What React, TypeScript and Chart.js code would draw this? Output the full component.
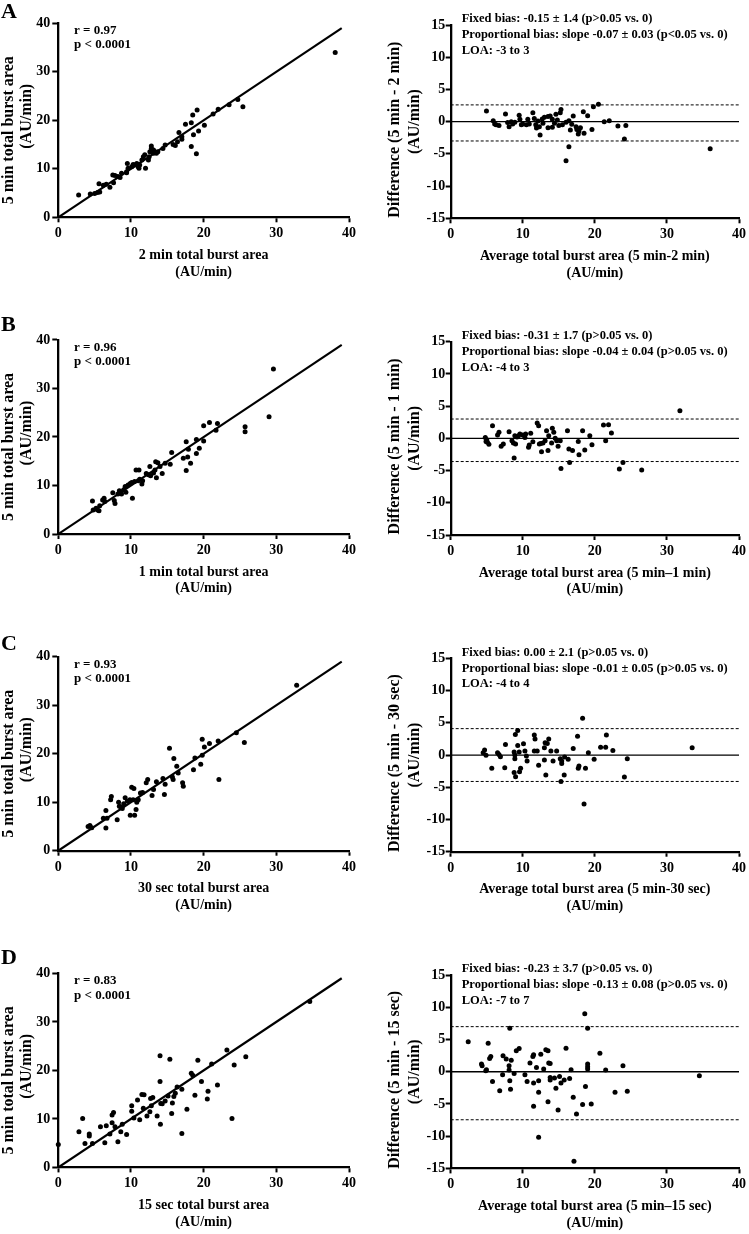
import React, { useEffect, useRef } from "react";
import { Chart, registerables } from "chart.js";

Chart.register(...registerables);

const SERIF = '"Liberation Serif", "Times New Roman", Times, serif';

// ---------- axis ranges / ticks ----------
const corrRange = [0, 40];
const corrStep = 10;
const diffRange = [-15, 15];
const diffStep = 5;

// fitted line in correlation panels
const fitLineX = [0, 39];
const fitLineY = [0, 39];
// zero line in Bland-Altman panels
const zeroLineX = [0, 40];

// ---------- Panel A ----------
const aCorrX = [2.8, 4.4, 5.0, 5.4, 5.7, 5.6, 6.2, 6.6, 7.1, 7.6, 7.5, 7.8, 8.2, 8.5, 8.7, 9.4, 9.4, 9.5, 9.6, 10.1, 10.3, 10.5, 10.8, 11.0, 11.1, 11.2, 11.5, 11.7, 11.9, 12.0, 12.4, 12.5, 12.6, 12.8, 12.8, 12.9, 13.1, 13.1, 13.3, 13.5, 13.7, 14.4, 14.7, 15.8, 16.1, 16.4, 16.6, 17.0, 17.0, 17.5, 18.3, 18.5, 18.3, 18.6, 19.0, 19.1, 19.3, 20.1, 21.3, 22.0, 23.5, 24.7, 25.4, 38.1];
const aCorrY = [4.6, 4.8, 4.9, 5.1, 5.2, 6.9, 6.6, 6.8, 6.2, 7.1, 8.7, 8.6, 8.4, 8.2, 9.1, 9.4, 9.2, 11.1, 10.1, 10.4, 10.9, 10.8, 11.1, 10.4, 10.1, 10.8, 11.8, 12.5, 12.9, 10.1, 11.8, 12.5, 13.5, 14.2, 14.7, 13.9, 13.9, 13.2, 13.5, 13.2, 13.5, 14.2, 14.9, 15.0, 14.8, 15.6, 17.5, 16.1, 16.6, 19.2, 19.5, 21.1, 14.6, 17.0, 13.1, 22.1, 17.8, 19.0, 21.3, 22.3, 23.2, 24.3, 22.8, 34.0];
const aBaX = [4.96, 5.9, 6.1, 6.3, 6.7, 7.6, 7.9, 8.1, 8.4, 8.6, 8.9, 9.5, 9.6, 9.8, 10.0, 10.5, 10.7, 10.9, 11.4, 11.6, 11.8, 11.9, 12.1, 12.3, 12.4, 12.7, 12.8, 13.0, 13.5, 13.5, 13.8, 14.1, 14.1, 14.4, 14.6, 14.8, 15.0, 15.2, 15.3, 15.5, 16.0, 16.0, 16.4, 16.4, 16.6, 16.8, 17.0, 17.4, 17.5, 17.7, 17.8, 18.0, 18.4, 18.5, 19.0, 19.6, 19.8, 20.5, 21.3, 22.0, 23.2, 24.1, 24.3, 36.0];
const aBaY = [1.66, 0.15, -0.36, -0.5, -0.6, 1.2, -0.15, -0.8, 0, -0.36, -0.1, 1.0, 0.36, -0.5, -0.36, -0.5, 0.36, -0.36, 1.4, 0.5, -0.5, -1.0, 0.1, -0.8, -2.07, 0.4, -0.26, 0.67, 0.78, -0.93, 0.88, -0.88, 0.36, -0.26, 1.14, 0.26, -0.6, 1.4, 1.9, -0.5, -0.1, -6.05, 0.15, -3.9, -1.3, -0.4, 0.88, -0.8, -1.2, -1.9, -1.45, -0.93, 1.55, -1.8, 0.93, -1.2, 2.3, 2.7, 0, 0.15, -0.67, -2.7, -0.6, -4.2];
const aLoa = [2.6, -3.0];

// ---------- Panel B ----------
const bCorrX = [4.7, 4.8, 5.2, 5.4, 5.6, 5.7, 6.1, 6.3, 6.4, 7.5, 7.7, 7.8, 8.2, 8.4, 8.6, 8.7, 9.0, 9.2, 9.3, 9.6, 9.9, 10.1, 10.2, 10.5, 10.7, 11.0, 11.1, 11.2, 11.5, 11.6, 12.1, 12.4, 12.6, 12.7, 13.1, 13.3, 13.4, 13.5, 13.7, 14.0, 14.3, 14.7, 15.4, 15.6, 17.2, 17.6, 17.6, 17.8, 17.9, 18.2, 19.0, 19.0, 19.4, 20.0, 20.0, 20.8, 21.7, 21.9, 25.7, 25.7, 29.0, 29.6];
const bCorrY = [6.8, 4.95, 5.3, 4.95, 4.8, 5.8, 7.0, 7.35, 6.7, 8.5, 6.9, 6.3, 8.25, 8.9, 8.7, 8.25, 9.1, 9.8, 8.6, 10.1, 10.4, 10.6, 7.35, 10.8, 13.2, 11.0, 13.2, 11.3, 10.3, 11.0, 12.5, 12.2, 13.9, 12.0, 12.6, 13.2, 14.9, 11.6, 14.7, 13.9, 12.5, 14.6, 14.4, 16.8, 15.6, 19.0, 13.1, 15.9, 17.5, 14.6, 19.5, 16.6, 17.7, 22.3, 19.2, 23.0, 21.4, 22.8, 22.1, 21.1, 24.2, 34.0];
const bBaX = [4.8, 4.9, 5.0, 5.1, 5.3, 5.8, 6.5, 6.7, 7.0, 7.3, 8.1, 8.5, 8.7, 8.8, 8.9, 9.0, 9.2, 9.4, 9.6, 10.0, 10.3, 10.4, 10.8, 10.9, 11.1, 11.4, 12.0, 12.2, 12.3, 12.5, 12.6, 12.8, 13.1, 13.3, 13.5, 13.6, 14.0, 14.1, 14.3, 14.5, 14.7, 14.9, 15.2, 15.3, 16.2, 16.4, 16.5, 16.9, 17.7, 17.8, 18.3, 18.6, 19.3, 19.6, 21.2, 21.5, 21.9, 22.3, 23.4, 23.9, 26.5, 31.8];
const bBaY = [0.15, -0.5, -0.2, -0.6, -0.9, 1.97, 0.52, 0.93, -1.24, -0.88, 1.04, -0.36, -0.73, -3.06, 0.41, -0.88, 0.2, 0.41, 0.67, 0.52, 0.15, 0.67, -1.4, -1.04, 0.78, -0.52, 2.38, 1.97, -0.88, -0.8, -2.07, -0.73, -0.36, 1.19, -1.9, 0.41, -0.73, 1.55, 0.93, 0, -0.36, -1.24, -0.36, -4.66, 1.19, -1.66, -3.73, -1.9, -0.47, -2.54, 1.19, -1.81, 0.41, -0.98, 2.07, -0.36, 2.12, 0.83, -4.77, -3.73, -4.92, 4.3];
const bLoa = [3.0, -3.6];

// ---------- Panel C ----------
const cCorrX = [4.1, 4.35, 4.6, 6.2, 6.55, 6.55, 6.7, 7.2, 7.3, 8.1, 8.3, 8.4, 8.6, 8.8, 9.0, 9.2, 9.5, 9.85, 9.9, 10.1, 10.3, 10.4, 10.5, 10.7, 10.8, 11.0, 11.3, 11.6, 12.1, 12.3, 12.9, 13.1, 13.5, 14.4, 14.6, 14.7, 15.3, 15.7, 15.8, 15.9, 16.3, 16.5, 17.1, 17.2, 18.6, 18.8, 19.6, 19.8, 19.8, 20.1, 20.8, 22.0, 22.1, 24.5, 25.6, 32.8];
const cCorrY = [5.0, 5.2, 4.75, 6.7, 8.3, 4.7, 6.7, 10.5, 11.2, 6.4, 10.0, 9.15, 9.0, 8.7, 9.7, 10.9, 10.2, 10.5, 7.3, 13.1, 10.5, 12.8, 7.3, 8.5, 10.0, 10.5, 11.9, 12.0, 14.0, 14.7, 11.4, 12.6, 14.2, 14.9, 11.6, 13.7, 21.1, 15.2, 14.7, 19.0, 17.4, 16.0, 14.0, 13.3, 16.7, 19.1, 17.8, 23.0, 19.7, 21.4, 22.1, 22.6, 14.7, 24.3, 22.3, 34.1];
const cBaX = [4.5, 4.7, 4.9, 5.7, 6.5, 6.7, 6.9, 7.5, 7.6, 8.8, 9.0, 8.97, 9.3, 9.3, 9.55, 9.7, 8.8, 8.9, 8.9, 9.5, 10.1, 10.3, 10.5, 10.6, 11.6, 11.7, 11.6, 12.0, 12.2, 13.0, 13.0, 13.1, 13.2, 13.4, 13.6, 13.9, 14.2, 14.7, 15.2, 15.4, 15.4, 15.75, 15.8, 15.3, 16.3, 17.0, 17.6, 17.7, 17.8, 18.3, 18.5, 18.7, 19.1, 19.9, 20.8, 21.5, 21.6, 22.5, 24.1, 24.5, 33.5];
const cBaY = [0.36, 0.77, -0.05, -2.06, 0.36, 0.1, -0.26, -1.96, 1.65, -2.7, -3.35, 3.2, 3.8, 1.5, -2.6, -2.06, 0.46, -0.57, 0, 0.46, 1.75, 0.62, -0.15, -0.93, 3.1, 2.5, 0.62, 0.62, -1.6, -0.77, 1.13, 1.9, -3.1, 1.8, 2.5, 0.62, -0.93, 0.62, -0.57, -0.93, -1.3, -3.1, -0.3, -4.1, -0.67, 1.03, 2.9, -2.06, -1.7, 5.7, -7.6, -2.06, 0.36, -0.67, 1.2, 1.2, 3.1, 0.72, -3.4, -0.57, 1.13];
const cLoa = [4.1, -4.1];

// ---------- Panel D ----------
const dCorrX = [0.0, 2.84, 3.35, 3.67, 4.26, 4.26, 4.7, 5.8, 6.4, 6.6, 7.1, 7.4, 7.4, 7.6, 7.8, 8.2, 8.6, 8.8, 9.4, 10.1, 10.1, 10.4, 10.9, 11.2, 11.5, 11.7, 11.8, 12.2, 12.6, 12.7, 12.8, 13.0, 13.6, 14.0, 14.0, 14.05, 14.1, 14.3, 14.7, 15.1, 15.35, 15.6, 15.7, 15.9, 16.1, 16.35, 17.0, 17.0, 17.7, 18.3, 18.5, 18.8, 19.2, 19.7, 20.5, 20.6, 21.1, 21.9, 23.2, 23.9, 24.2, 25.8, 34.6];
const dCorrY = [4.7, 7.35, 10.1, 4.95, 6.9, 6.5, 4.95, 8.4, 5.1, 8.6, 6.9, 9.2, 10.8, 11.3, 8.4, 5.3, 7.35, 8.9, 6.8, 12.7, 11.6, 10.2, 13.9, 9.8, 15.05, 12.2, 15.0, 10.6, 11.5, 14.2, 12.7, 14.4, 10.6, 17.7, 23.0, 8.9, 13.2, 13.1, 13.7, 14.7, 22.3, 11.1, 13.3, 14.6, 15.3, 16.6, 16.1, 7.0, 12.0, 19.4, 19.0, 14.9, 22.1, 17.7, 14.1, 15.7, 21.3, 17.0, 24.2, 10.1, 21.1, 22.8, 34.2];
const dBaX = [2.43, 4.27, 4.36, 4.87, 4.96, 5.2, 5.4, 5.56, 5.8, 6.8, 7.2, 7.26, 7.7, 8.1, 8.1, 8.2, 8.2, 8.3, 8.4, 8.8, 9.1, 9.5, 10.3, 10.6, 11.0, 11.4, 11.5, 11.5, 11.5, 11.9, 12.2, 12.2, 12.2, 12.5, 12.9, 13.2, 13.5, 13.5, 13.6, 13.8, 13.8, 13.8, 14.4, 14.6, 14.9, 15.1, 15.3, 15.75, 16.0, 16.5, 16.7, 17.0, 17.1, 17.45, 18.3, 18.6, 18.7, 19.0, 19.0, 19.0, 19.0, 19.5, 20.7, 21.5, 22.8, 23.9, 24.5, 34.5];
const dBaY = [4.64, 1.19, 0.93, 0.15, 0.31, 4.43, 2.06, 2.37, -1.5, -2.94, -0.46, 2.47, 1.96, 0.93, 0.26, 6.75, -1.4, -2.7, 1.8, -0.26, 3.25, 3.6, -0.46, -1.5, 1.34, 2.37, 2.63, -1.75, -5.36, 0.67, -3.2, -1.4, -10.15, 2.73, 0.41, 3.4, 3.25, -4.64, 1.34, 1.29, -0.88, -1.29, -0.98, -2.58, -5.93, -0.72, -1.75, -1.29, 3.66, -1.03, 0.31, -3.97, -13.9, -6.55, -5.1, 9.0, -2.27, 6.75, 1.19, 0.77, 0.41, -5.0, 2.89, 0.26, -3.2, 0.93, -3.04, -0.62];
const dLoa = [7.0, -7.45];

// ---------- texts ----------
// (extra blank spaces only shift the centring of the rotated titles, as in the original)
const corrYTitle = ["5 min total burst area     ", "  (AU/min)"];
const panelLetters = ["A", "B", "C", "D"];
const letterBaselines = [18.3, 331.7, 650, 964.3];

type Spec = {
  kind: "corr" | "ba";
  row: number;
  xs: number[];
  ys: number[];
  loa?: number[];
  xTitle: string[];
  yTitle: string[];
  notes: string[];
};

const specs: Spec[] = [
  { kind: "corr", row: 0, xs: aCorrX, ys: aCorrY, xTitle: ["2 min total burst area", "(AU/min)"], yTitle: corrYTitle, notes: ["r = 0.97", "p < 0.0001"] },
  { kind: "ba", row: 0, xs: aBaX, ys: aBaY, loa: aLoa, xTitle: ["Average total burst area (5 min-2 min)", "(AU/min)"], yTitle: ["Difference (5 min - 2 min)    ", "(AU/min)"], notes: ["Fixed bias: -0.15 \u00b1 1.4 (p>0.05 vs. 0)", "Proportional bias: slope -0.07 \u00b1 0.03 (p<0.05 vs. 0)", "LOA: -3 to 3"] },
  { kind: "corr", row: 1, xs: bCorrX, ys: bCorrY, xTitle: ["1 min total burst area", "(AU/min)"], yTitle: corrYTitle, notes: ["r = 0.96", "p < 0.0001"] },
  { kind: "ba", row: 1, xs: bBaX, ys: bBaY, loa: bLoa, xTitle: ["Average total burst area (5 min\u20131 min)", "(AU/min)"], yTitle: ["Difference (5 min - 1 min)    ", "(AU/min)"], notes: ["Fixed bias: -0.31 \u00b1 1.7 (p>0.05 vs. 0)", "Proportional bias: slope -0.04 \u00b1 0.04 (p>0.05 vs. 0)", "LOA: -4 to 3"] },
  { kind: "corr", row: 2, xs: cCorrX, ys: cCorrY, xTitle: ["30 sec total burst area", "(AU/min)"], yTitle: corrYTitle, notes: ["r = 0.93", "p < 0.0001"] },
  { kind: "ba", row: 2, xs: cBaX, ys: cBaY, loa: cLoa, xTitle: ["Average total burst area (5 min-30 sec)", "(AU/min)"], yTitle: ["Difference (5 min - 30 sec)    ", "(AU/min)"], notes: ["Fixed bias: 0.00 \u00b1 2.1 (p>0.05 vs. 0)", "Proportional bias: slope -0.01 \u00b1 0.05 (p>0.05 vs. 0)", "LOA: -4 to 4"] },
  { kind: "corr", row: 3, xs: dCorrX, ys: dCorrY, xTitle: ["15 sec total burst area", "(AU/min)"], yTitle: corrYTitle, notes: ["r = 0.83", "p < 0.0001"] },
  { kind: "ba", row: 3, xs: dBaX, ys: dBaY, loa: dLoa, xTitle: ["Average total burst area (5 min\u201315 sec)", "(AU/min)"], yTitle: ["Difference (5 min - 15 sec)    ", "(AU/min)"], notes: ["Fixed bias: -0.23 \u00b1 3.7 (p>0.05 vs. 0)", "Proportional bias: slope -0.13 \u00b1 0.08 (p>0.05 vs. 0)", "LOA: -7 to 7"] },
];

const ROW_STEP = 316.7;
const CANVAS_H = 284;
const X_AXIS_H = 63;

function geometry(spec: Spec) {
  const off = spec.row * ROW_STEP;
  const top = Math.round(off);
  const d = off - top;
  if (spec.kind === "corr") {
    const areaTop = 23.3 + d;
    const areaBottom = 217.3 + d;
    return { left: 0, top, w: 374, h: CANVAS_H, pad: { left: 0, top: areaTop, right: 374 - 349, bottom: CANVAS_H - areaBottom - X_AXIS_H }, yWidth: 58.3 };
  }
  const areaTop = 25 + d;
  const areaBottom = 218.3 + d;
  return { left: 374, top, w: 375, h: CANVAS_H, pad: { left: 0, top: areaTop, right: 375 - (741 - 374), bottom: CANVAS_H - areaBottom - X_AXIS_H }, yWidth: 450.7 - 374 };
}

function notesPlugin(spec: Spec) {
  const isCorr = spec.kind === "corr";
  const font = isCorr ? `bold 13px ${SERIF}` : `bold 12.5px ${SERIF}`;
  const dx = isCorr ? 15.7 : 11;
  const dys = isCorr ? [7.6, 21.8] : [-6, 9.9, 25.8];
  return {
    id: "notes",
    afterDraw(chart: any) {
      const { ctx, chartArea } = chart;
      ctx.save();
      ctx.font = font;
      ctx.fillStyle = "#000";
      ctx.textAlign = "left";
      ctx.textBaseline = "middle";
      spec.notes.forEach((t, i) => ctx.fillText(t, chartArea.left + dx, chartArea.top + dys[i]));
      ctx.restore();
    },
  };
}

function pts(xs: number[], ys: number[]) {
  return xs.map((x, i) => ({ x, y: ys[i] }));
}

function buildConfig(spec: Spec) {
  const g = geometry(spec);
  const isCorr = spec.kind === "corr";
  const datasets: any[] = [
    {
      type: "scatter",
      data: pts(spec.xs, spec.ys),
      pointRadius: 2.5,
      pointBackgroundColor: "#000",
      pointBorderWidth: 0,
      showLine: false,
      clip: false,
    },
  ];
  if (isCorr) {
    datasets.push({ type: "line", data: pts(fitLineX, fitLineY), borderColor: "#000", borderWidth: 2.2, pointRadius: 0, fill: false });
  } else {
    const loa = spec.loa as number[];
    datasets.push({ type: "line", data: pts(zeroLineX, [0, 0]), borderColor: "#000", borderWidth: 1.3, pointRadius: 0, fill: false });
    datasets.push({ type: "line", data: pts(zeroLineX, [loa[0], loa[0]]), borderColor: "#000", borderWidth: 1, borderDash: [3, 2], pointRadius: 0, fill: false });
    datasets.push({ type: "line", data: pts(zeroLineX, [loa[1], loa[1]]), borderColor: "#000", borderWidth: 1, borderDash: [3, 2], pointRadius: 0, fill: false });
  }
  const tickFont = { family: SERIF, size: 14, weight: "bold" as const };
  const yRange = isCorr ? corrRange : diffRange;
  return {
    type: "scatter" as const,
    data: { datasets },
    options: {
      responsive: false,
      animation: false as const,
      events: [] as any[],
      layout: { padding: g.pad },
      plugins: { legend: { display: false }, tooltip: { enabled: false } },
      scales: {
        x: {
          type: "linear" as const,
          min: corrRange[0],
          max: corrRange[1],
          ticks: { stepSize: corrStep, color: "#000", font: tickFont, padding: 3, maxRotation: 0, autoSkip: false },
          grid: { display: true, drawOnChartArea: false, drawTicks: true, tickLength: 5, tickWidth: 2, tickColor: "#000", color: "#000" },
          border: { display: true, color: "#000", width: 2.3 },
          title: { display: true, text: spec.xTitle, color: "#000", font: { family: SERIF, size: 14, weight: "bold" as const, lineHeight: "16.7px" }, padding: { top: 0, bottom: 0 } },
          afterFit: (s: any) => { s.height = X_AXIS_H; },
        },
        y: {
          type: "linear" as const,
          min: yRange[0],
          max: yRange[1],
          ticks: { stepSize: isCorr ? corrStep : diffStep, color: "#000", font: tickFont, padding: isCorr ? 2 : 0.5, autoSkip: false },
          grid: { display: true, drawOnChartArea: false, drawTicks: true, tickLength: isCorr ? 6 : 5, tickWidth: 2, tickColor: "#000", color: "#000" },
          border: { display: true, color: "#000", width: 2.3 },
          title: {
            display: true,
            text: spec.yTitle,
            color: "#000",
            font: { family: SERIF, size: 16, weight: "bold" as const, lineHeight: isCorr ? "17.5px" : "19.5px" },
            padding: { top: isCorr ? 0.25 : 11.25, bottom: 0 },
          },
          afterFit: (s: any) => { s.width = g.yWidth; },
        },
      },
    },
    plugins: [notesPlugin(spec)],
  };
}

function PanelChart({ spec }: { spec: Spec }) {
  const ref = useRef<HTMLCanvasElement | null>(null);
  useEffect(() => {
    if (!ref.current) return;
    const chart = new Chart(ref.current, buildConfig(spec) as any);
    return () => chart.destroy();
  }, [spec]);
  const g = geometry(spec);
  return (
    <canvas
      ref={ref}
      width={g.w}
      height={g.h}
      style={{ position: "absolute", left: g.left, top: g.top, width: g.w, height: g.h, display: "block" }}
    />
  );
}

export default function App() {
  return (
    <div style={{ position: "absolute", left: 0, top: 0, width: 749, height: 1234, overflow: "hidden", background: "#fff" }}>
      {specs.map((s, i) => (
        <PanelChart key={i} spec={s} />
      ))}
      {panelLetters.map((L, i) => (
        <div
          key={L}
          style={{
            position: "absolute",
            left: 1,
            top: letterBaselines[i] - 18.4,
            fontFamily: SERIF,
            fontWeight: "bold",
            fontSize: 22,
            lineHeight: "22px",
            color: "#000",
          }}
        >
          {L}
        </div>
      ))}
    </div>
  );
}
